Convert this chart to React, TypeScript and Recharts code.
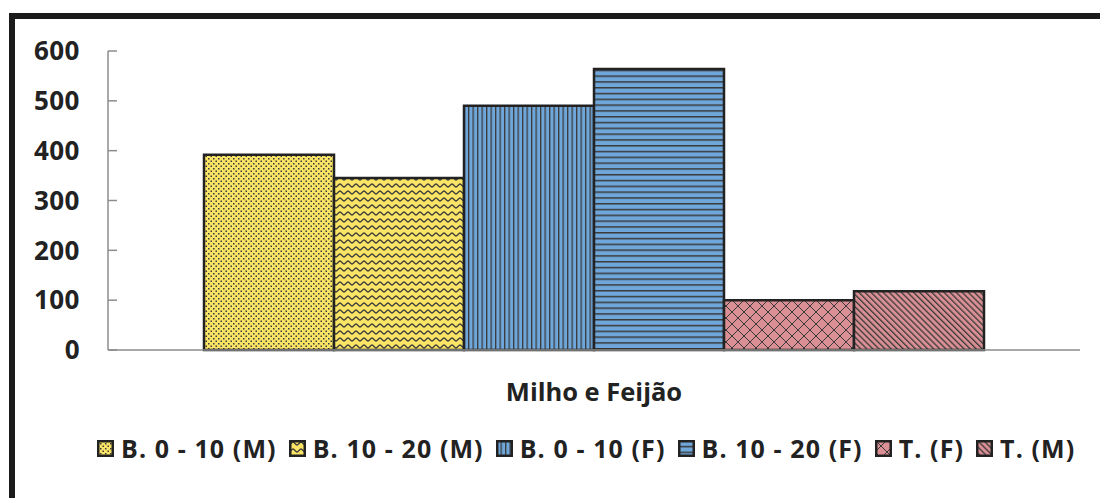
import React from 'react';
import { BarChart, Bar, XAxis, YAxis, Legend } from 'recharts';

const categories = ['Milho e Feijão'];
const seriesNames = ['B. 0 - 10 (M)', 'B. 10 - 20 (M)', 'B. 0 - 10 (F)', 'B. 10 - 20 (F)', 'T. (F)', 'T. (M)'];
const seriesKeys = ['b010m', 'b1020m', 'b010f', 'b1020f', 'tf', 'tm'];
const seriesValues = [[392], [345], [490], [564], [100], [118]];
const yTicks = [0, 100, 200, 300, 400, 500, 600];

const patternIds = ['dots', 'waves', 'vlines', 'hlines', 'cross', 'diag'];

const FONT = '"Open Sans", sans-serif';
const TEXT = '#222222';
const AXIS = '#8c8c8c';
const EDGE = '#222222';
const INK = '#3a3a3a';
const YELLOW = '#F9E465';
const BLUE = '#6FA7DA';
const PINK = '#D98F94';

const data = categories.map((name, i) => {
  const row: Record<string, string | number> = { name };
  seriesKeys.forEach((k, j) => {
    row[k] = seriesValues[j][i];
  });
  return row;
});

const CategoryTick = ({ x, y, payload }: any) => (
  <text x={x} y={y} dy={43} textAnchor="middle" fontFamily={FONT} fontWeight={700} fontSize={25.5} fill={TEXT}>
    {payload.value}
  </text>
);

const renderLegend = () => (
  <div
    style={{
      display: 'flex',
      alignItems: 'center',
      height: 32,
      paddingLeft: 97,
      fontFamily: FONT,
      fontWeight: 700,
      fontSize: 25,
      color: TEXT,
      whiteSpace: 'nowrap',
    }}
  >
    {seriesNames.map((n, i) => (
      <span key={n} style={{ display: 'flex', alignItems: 'center', marginRight: 12 }}>
        <svg width={17} height={17} style={{ marginRight: 7 }}>
          <rect x={1.25} y={1.25} width={14.5} height={14.5} fill={`url(#${patternIds[i]})`} stroke={EDGE} strokeWidth={2.5} />
        </svg>
        <span style={{ letterSpacing: 1.1 }}>{n}</span>
      </span>
    ))}
  </div>
);

export default function App() {
  return (
    <div style={{ position: 'absolute', left: 0, top: 0, width: 1100, height: 498, overflow: 'hidden', background: '#fff' }}>
      {/* chart frame */}
      <div
        style={{
          position: 'absolute',
          left: 9,
          top: 13,
          width: 1200,
          height: 600,
          borderLeft: `6px solid #1b1b1b`,
          borderTop: `6px solid #1b1b1b`,
        }}
      />
      <div style={{ position: 'absolute', left: 0, top: 0 }}>
        <BarChart
          width={1100}
          height={498}
          data={data}
          margin={{ top: 51, right: 20, left: 0, bottom: 56 }}
          barCategoryGap={96}
          barGap={0}
        >
          <defs>
            <pattern id="dots" width={5} height={5} patternUnits="userSpaceOnUse">
              <rect width={5} height={5} fill={YELLOW} />
              <rect x={0.5} y={0.5} width={1.5} height={1.5} fill={INK} />
              <rect x={3} y={3} width={1.5} height={1.5} fill={INK} />
            </pattern>
            <pattern id="waves" width={8} height={7} patternUnits="userSpaceOnUse">
              <rect width={8} height={7} fill={YELLOW} />
              <path d="M0,5 C1.3,5 2.7,2 4,2 C5.3,2 6.7,5 8,5" fill="none" stroke={INK} strokeWidth={1.3} />
            </pattern>
            <pattern id="vlines" width={4.5} height={6} patternUnits="userSpaceOnUse">
              <rect width={4.5} height={6} fill={BLUE} />
              <rect x={0} y={0} width={1.3} height={6} fill={INK} />
            </pattern>
            <pattern id="hlines" width={6} height={5.8} patternUnits="userSpaceOnUse">
              <rect width={6} height={5.8} fill={BLUE} />
              <rect x={0} y={0} width={6} height={1.5} fill={INK} />
            </pattern>
            <pattern id="cross" width={12} height={12} patternUnits="userSpaceOnUse">
              <rect width={12} height={12} fill={PINK} />
              <path d="M0,0 L12,12 M12,0 L0,12" stroke={INK} strokeWidth={1} />
            </pattern>
            <pattern id="diag" width={4.3} height={4.3} patternUnits="userSpaceOnUse" patternTransform="rotate(-45)">
              <rect width={4.3} height={4.3} fill={PINK} />
              <rect x={0} y={0} width={1.3} height={4.3} fill={INK} />
            </pattern>
          </defs>
          <XAxis
            dataKey="name"
            height={60}
            axisLine={{ stroke: AXIS, strokeWidth: 1.5 }}
            tickLine={false}
            interval={0}
            tick={<CategoryTick />}
          />
          <YAxis
            width={108}
            domain={[0, 600]}
            ticks={yTicks}
            interval={0}
            tickSize={-9}
            tickMargin={37}
            axisLine={{ stroke: AXIS, strokeWidth: 1.5 }}
            tickLine={{ stroke: AXIS, strokeWidth: 1.5 }}
            tick={{ fontFamily: FONT, fontWeight: 700, fontSize: 26, fill: TEXT, letterSpacing: 0.5 }}
          />
          <Legend
            verticalAlign="bottom"
            content={renderLegend}
            wrapperStyle={{ top: 432, bottom: 'auto', left: 0, width: 1100, height: 32 }}
          />
          {seriesKeys.map((k, i) => (
            <Bar
              key={k}
              dataKey={k}
              name={seriesNames[i]}
              fill={`url(#${patternIds[i]})`}
              stroke={EDGE}
              strokeWidth={2.5}
              isAnimationActive={false}
            />
          ))}
        </BarChart>
      </div>
    </div>
  );
}
